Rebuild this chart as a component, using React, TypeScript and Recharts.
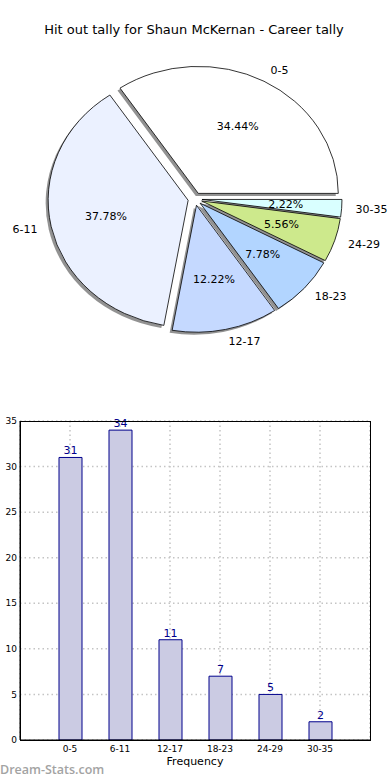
import React from "react";
import {
  PieChart,
  Pie,
  Cell,
  BarChart,
  Bar,
  XAxis,
  YAxis,
  CartesianGrid,
  LabelList,
} from "recharts";

const categories = ["0-5", "6-11", "12-17", "18-23", "24-29", "30-35"];
const tally = [31, 34, 11, 7, 5, 2];
const sliceColors = ["#ffffff", "#ebf1ff", "#c5d9ff", "#b2d5ff", "#cde98c", "#d9ffff"];
const yTicks = [0, 5, 10, 15, 20, 25, 30, 35];

const data = categories.map((name, i) => ({ name, value: tally[i] }));

const FONT = "'DejaVu Sans', sans-serif";
const RX = 140;
const RY = 127;
const K = RY / RX;
const EXPLODE = 7;
const RAD = Math.PI / 180;

// matplotlib-ish pie: elliptical and every wedge pushed out along its mid angle
function offsetCenter(cx: number, cy: number, mid: number, d: number) {
  return [cx + d * Math.cos(mid * RAD), cy - d * K * Math.sin(mid * RAD)];
}

function EllipseSector(props: any) {
  const { cx, cy, outerRadius, startAngle, endAngle, fill, stroke, strokeWidth, dx = 0, dy = 0, fillOpacity } = props;
  const mid = (startAngle + endAngle) / 2;
  const [ox, oy] = offsetCenter(cx, cy, mid, EXPLODE);
  const rx = outerRadius;
  const ry = outerRadius * K;
  const x0 = ox + dx;
  const y0 = oy + dy;
  const p = (a: number) => [x0 + rx * Math.cos(a * RAD), y0 - ry * Math.sin(a * RAD)];
  const [sx, sy] = p(startAngle);
  const [ex, ey] = p(endAngle);
  const large = Math.abs(endAngle - startAngle) > 180 ? 1 : 0;
  const d = `M${x0},${y0} L${sx},${sy} A${rx},${ry} 0 ${large} 0 ${ex},${ey} Z`;
  return <path d={d} fill={fill} fillOpacity={fillOpacity} stroke={stroke} strokeWidth={strokeWidth} />;
}

function ShadowSector(props: any) {
  return <EllipseSector {...props} dx={-2.5} dy={2.5} fill="#6e6e6e" fillOpacity={0.75} stroke="none" />;
}

function SliceLabel(props: any) {
  const { cx, cy, midAngle, outerRadius, percent, name } = props;
  const [ox, oy] = offsetCenter(cx, cy, midAngle, EXPLODE);
  const c = Math.cos(midAngle * RAD);
  const s = Math.sin(midAngle * RAD);
  const px = ox + 0.6 * outerRadius * c;
  const py = oy - 0.6 * outerRadius * K * s;
  const lx = ox + 1.1 * outerRadius * c;
  const ly = oy - 1.1 * outerRadius * K * s;
  return (
    <g>
      <text x={px} y={py} textAnchor="middle" dominantBaseline="central" fontSize={11} fontFamily={FONT} fill="#000">
        {(percent * 100).toFixed(2) + "%"}
      </text>
      <text x={lx} y={ly} textAnchor={c > 0 ? "start" : "end"} dominantBaseline="central" fontSize={11} fontFamily={FONT} fill="#000">
        {name}
      </text>
    </g>
  );
}

export default function App() {
  return (
    <div style={{ position: "absolute", left: 0, top: 0, width: 390, height: 780, background: "#fff", fontFamily: FONT }}>
      <div style={{ position: "absolute", left: 0, top: 22, width: 388, textAlign: "center", fontSize: 13, color: "#000" }}>
        Hit out tally for Shaun McKernan - Career tally
      </div>

      <div style={{ position: "absolute", left: 0, top: 0 }}>
        <PieChart width={390} height={400} margin={{ top: 0, right: 0, bottom: 0, left: 0 }}>
          <Pie
            data={data}
            dataKey="value"
            nameKey="name"
            cx={195}
            cy={199}
            outerRadius={RX}
            startAngle={0}
            endAngle={360}
            stroke="none"
            shape={ShadowSector}
            activeShape={ShadowSector}
            inactiveShape={ShadowSector}
            isAnimationActive={false}
            label={false}
            labelLine={false}
          >
            {data.map((d) => (
              <Cell key={"s" + d.name} fill="#6e6e6e" />
            ))}
          </Pie>
          <Pie
            data={data}
            dataKey="value"
            nameKey="name"
            cx={195}
            cy={199}
            outerRadius={RX}
            startAngle={0}
            endAngle={360}
            stroke="#000"
            strokeWidth={0.8}
            shape={EllipseSector}
            activeShape={EllipseSector}
            inactiveShape={EllipseSector}
            isAnimationActive={false}
            label={SliceLabel}
            labelLine={false}
          >
            {data.map((d, i) => (
              <Cell key={d.name} fill={sliceColors[i]} />
            ))}
          </Pie>
        </PieChart>
      </div>

      <div style={{ position: "absolute", left: 0, top: 400 }}>
        <BarChart width={390} height={380} data={data} margin={{ top: 21, right: 20, left: 0, bottom: 0 }}>
          <CartesianGrid stroke="#c4c4c4" strokeWidth={1.5} strokeDasharray="1.5 3" />
          <XAxis
            dataKey="name"
            height={40}
            padding={{ left: 25, right: 25 }}
            tick={{ fontSize: 9, fill: "#000", fontFamily: FONT }}
            tickLine={false}
            tickSize={4}
            tickMargin={2}
            axisLine={{ stroke: "#000" }}
            label={{ value: "Frequency", position: "insideBottom", offset: 15, fontSize: 11, fill: "#000", fontFamily: FONT }}
          />
          <YAxis
            width={20}
            domain={[0, 35]}
            ticks={yTicks}
            interval={0}
            tick={{ fontSize: 9, fill: "#000", fontFamily: FONT }}
            tickLine={false}
            tickSize={0}
            tickMargin={3}
            axisLine={{ stroke: "#000" }}
            label={{ value: "Total Hit Outs", angle: -90, position: "center", dx: -15, fontSize: 11, fill: "#000", fontFamily: FONT }}
          />
          <Bar dataKey="value" barSize={23} fill="#cbcbe3" stroke="#00008b" strokeWidth={1} isAnimationActive={false}>
            <LabelList dataKey="value" position="top" offset={3} fontSize={11} fill="#00008b" fontFamily={FONT} />
          </Bar>
        </BarChart>
        {/* matplotlib draws a full frame around the axes */}
        <div
          style={{
            position: "absolute",
            left: 20,
            top: 21,
            width: 349,
            height: 318,
            border: "1px solid #000",
            pointerEvents: "none",
          }}
        />
      </div>

      <div
        style={{
          position: "absolute",
          left: 0,
          top: 761,
          fontSize: 12.5,
          fontWeight: 600,
          fontFamily: "'Open Sans', sans-serif",
          color: "#a3a3a3",
        }}
      >
        Dream-Stats.com
      </div>
    </div>
  );
}
